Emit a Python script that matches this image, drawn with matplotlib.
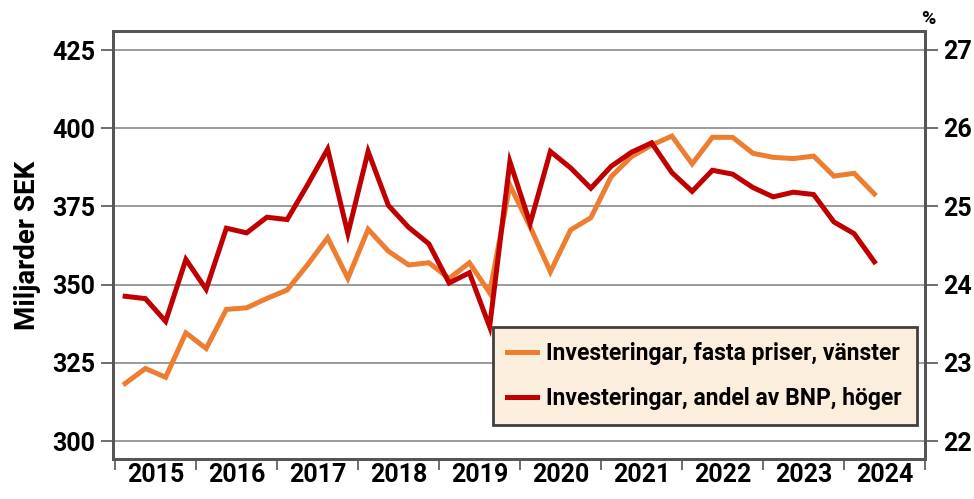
import matplotlib
matplotlib.use("Agg")
import matplotlib.pyplot as plt
import numpy as np
from matplotlib.ticker import FixedLocator, NullFormatter

plt.rcParams['font.family'] = ['Roboto', 'DejaVu Sans']

years = [str(y) for y in range(2015, 2025)]
fasta_priser = [318.4, 323.2, 320.4, 334.6, 329.6, 342.1, 342.6, 345.6, 348.3, 356.3,
                365.0, 352.0, 367.7, 360.7, 356.3, 357.0, 352.0, 357.0, 347.4, 381.8,
                368.5, 354.1, 367.5, 371.4, 384.5, 390.9, 394.6, 397.5, 388.6, 397.1,
                397.1, 392.0, 390.7, 390.3, 391.1, 384.7, 385.6, 379.0]
andel_bnp = [23.85, 23.82, 23.53, 24.32, 23.94, 24.72, 24.66, 24.86, 24.83, 25.27,
             25.73, 24.65, 25.70, 25.01, 24.73, 24.52, 24.02, 24.15, 23.46, 25.57,
             24.78, 25.70, 25.49, 25.23, 25.51, 25.69, 25.81, 25.43, 25.19, 25.46,
             25.41, 25.24, 25.12, 25.18, 25.15, 24.80, 24.65, 24.29]
left_ticks = [300, 325, 350, 375, 400, 425]
right_ticks = [22, 23, 24, 25, 26, 27]
label_a = "Investeringar, fasta priser, vänster"
label_b = "Investeringar, andel av BNP, höger"

x = 2015 + (np.arange(len(fasta_priser)) + 0.5) / 4

fig = plt.figure(figsize=(9.74, 4.99), dpi=100)
ax = fig.add_axes([0.116, 0.080, 0.8337, 0.858])
ax2 = ax.twinx()

ax.set_xlim(2014.975, 2025)
ax.set_ylim(294.25, 431.1)
ax2.set_ylim(21.77, 27.24)

for y in left_ticks:
    ax.axhline(y, color='#8a8a8a', lw=1.2, zorder=0)

la, = ax.plot(x, fasta_priser, color='#ED7D31', lw=3.6, solid_joinstyle='miter', zorder=3)
lb, = ax2.plot(x, andel_bnp, color='#C00000', lw=3.6, solid_joinstyle='miter', zorder=3)

ax.set_yticks(left_ticks)
ax.set_yticklabels([str(v) for v in left_ticks])
ax2.set_yticks(right_ticks)
ax2.set_yticklabels([str(v) for v in right_ticks])

ax.xaxis.set_major_locator(FixedLocator(np.arange(2015, 2026)))
ax.xaxis.set_major_formatter(NullFormatter())
ax.xaxis.set_minor_locator(FixedLocator(np.arange(2015, 2025) + 0.5))
ax.set_xticklabels(years, minor=True)
ax.tick_params(axis='x', which='major', length=8, width=1.2, color='#555555', direction='out')
ax.tick_params(axis='x', which='minor', length=0, pad=3, labelsize=18)
for lab in ax.get_xticklabels(minor=True):
    lab.set_fontweight('bold')

ax.tick_params(axis='y', length=9, width=1.2, color='#555555', labelsize=18, pad=4)
ax2.tick_params(axis='y', length=9, width=1.2, color='#555555', labelsize=18, pad=4)
for lab in ax.get_yticklabels() + ax2.get_yticklabels():
    lab.set_fontweight('bold')

for a in (ax, ax2):
    for s in a.spines.values():
        s.set_color('#555555')
        s.set_linewidth(2)

ax.set_ylabel("Miljarder SEK", fontsize=20, fontweight='bold', labelpad=8)
fig.text(0.953, 0.962, "%", fontsize=14, fontweight='bold', ha='center', va='center')

ax2.set_zorder(ax.get_zorder() + 1)
ax.patch.set_visible(True)
ax2.patch.set_visible(False)

leg = ax2.legend([la, lb], [label_a, label_b], loc='upper right',
                 bbox_to_anchor=(0.990, 0.308), prop={'weight': 'bold', 'size': 16.5},
                 frameon=True, fancybox=False, handlelength=1.3, handletextpad=0.4,
                 borderpad=0.65, labelspacing=0.95, borderaxespad=0)
leg.get_frame().set_facecolor('#FCEEDC')
leg.get_frame().set_edgecolor('#404040')
leg.get_frame().set_linewidth(2)
leg.get_frame().set_alpha(1)

fig.savefig("out.png", dpi=100)
